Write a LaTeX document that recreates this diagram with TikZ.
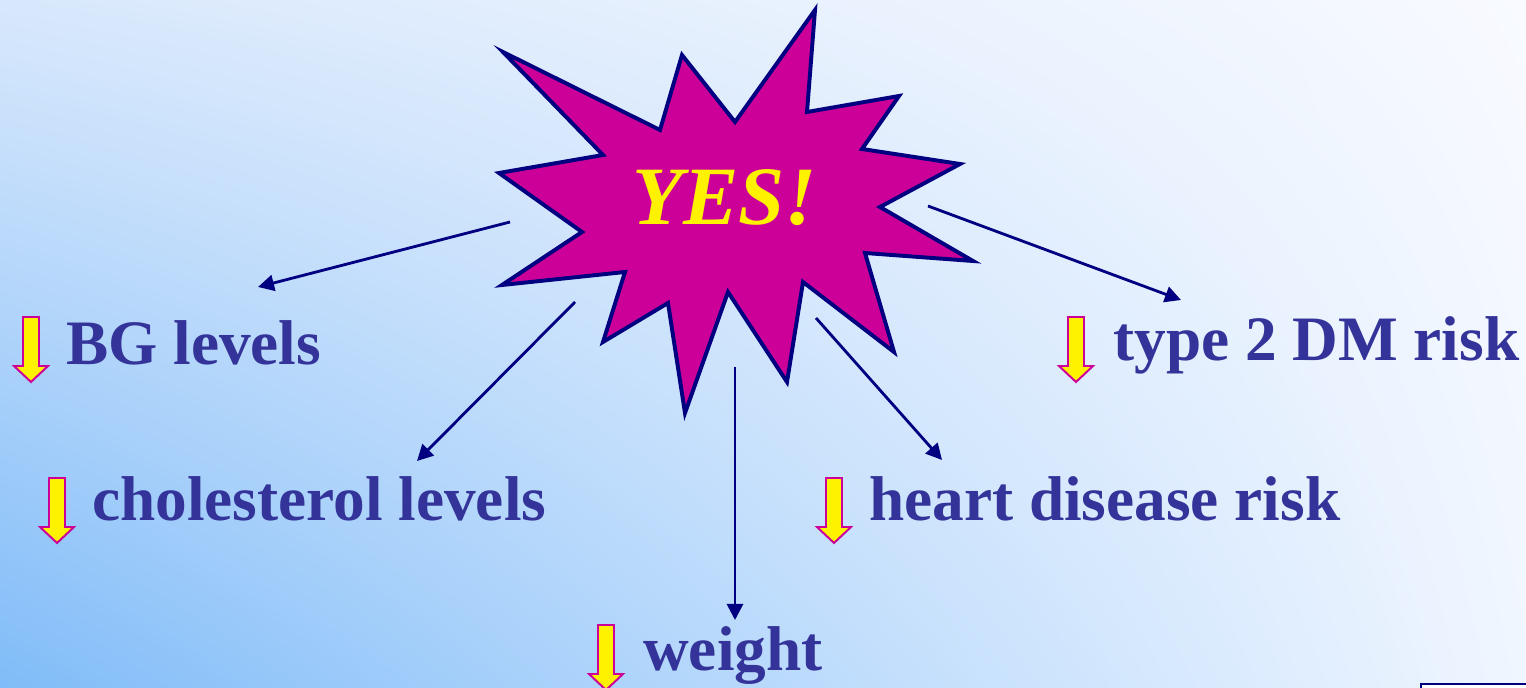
\documentclass[tikz,border=0pt]{standalone}
\usepackage{fontspec}
\setmainfont{Liberation Serif}
\usepackage{tikz}
\usetikzlibrary{arrows.meta}
\usetikzlibrary{shadings}

\definecolor{navyline}{HTML}{000080}
\definecolor{starfill}{HTML}{CC0099}
\definecolor{labelblue}{HTML}{333399}
\definecolor{bgtl}{HTML}{D8E8FC}
\definecolor{bgbl}{HTML}{80BCF8}
\definecolor{bgtr}{HTML}{F8FAFF}
\definecolor{bgbr}{HTML}{F0F6FF}

\tikzset{
  lbl/.style={anchor=base west, inner sep=0pt, text=labelblue,
    font=\bfseries\fontsize{45}{50}\selectfont},
  yes/.style={inner sep=0pt, text=yellow,
    font=\bfseries\itshape\fontsize{59}{64}\selectfont},
  link/.style={draw=navyline, line width=2pt,
    -{Triangle[length=0.4cm, width=0.4cm]}},
  dnarrow/.pic={
    \draw[fill=yellow, draw=starfill, line width=1.4pt]
      (-8,0) -- (8,0) -- (8,49) -- (17,49) -- (0,65) -- (-17,49) -- (-8,49) -- cycle;
  }
}

\begin{document}
\begin{tikzpicture}[x=0.025cm, y=-0.025cm]
				\useasboundingbox (0,0) rectangle (1526,688);
				\clip (0,0) rectangle (1526,688);
				\shade[upper left=bgtl, upper right=bgtr, lower left=bgbl, lower right=bgbr]
					(0,0) rectangle (1526,688);
				
				% burst
				\draw[fill=starfill, draw=navyline, line width=2.8pt, line join=miter]
					(503,52) -- (660,130) -- (682,55) -- (735,122) -- (815,10)
					-- (807,112) -- (899,96) -- (862,149) -- (960,164) -- (880,207)
					-- (973,261) -- (865,253) -- (894,352) -- (803,282) -- (787,382)
					-- (728,292) -- (685,413) -- (668,303) -- (603,342) -- (625,272)
					-- (502,285) -- (582,232) -- (499,173) -- (603,155) -- cycle;
				\node[yes] (yes) at (725,198) {YES!};
				
				% labels
				\node[lbl] (bg) at (66,365) {BG levels};
				\node[lbl] (chol) at (92,520) {cholesterol levels};
				\node[lbl] (wt) at (643,670) {weight};
				\node[lbl] (heart) at (869,520) {heart disease risk};
				\node[lbl] (dm) at (1113,361) {type 2 DM risk};
				
				\pic at (31,317) {dnarrow};
				\pic at (57,478) {dnarrow};
				\pic at (606,625) {dnarrow};
				\pic at (834,478) {dnarrow};
				\pic at (1076,317) {dnarrow};
				
				% connectors
				\coordinate (bgfrom) at (510,222);
				\coordinate (bgto) at (258,287);
				\coordinate (cholfrom) at (575,302);
				\coordinate (cholto) at (417,461);
				\coordinate (wtfrom) at (735,367);
				\coordinate (wtto) at (735,620);
				\coordinate (heartfrom) at (816,318);
				\coordinate (heartto) at (942,460);
				\coordinate (dmfrom) at (928,206);
				\coordinate (dmto) at (1181,300);
				
				\draw[link] (bgfrom) -- (bgto);
				\draw[link] (cholfrom) -- (cholto);
				\draw[link] (wtfrom) -- (wtto);
				\draw[link] (heartfrom) -- (heartto);
				\draw[link] (dmfrom) -- (dmto);
				
				% corner button
				\draw[draw=navyline, fill=white, line width=2pt] (1421,684) rectangle (1560,730);
			\end{tikzpicture}
\end{document}
